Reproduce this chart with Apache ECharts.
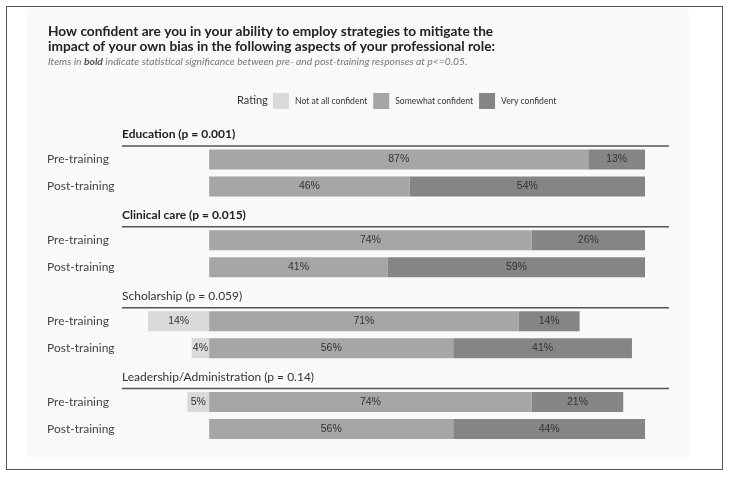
<!DOCTYPE html>
<html>
<head>
<meta charset="utf-8">
<script src="https://cdn.jsdelivr.net/npm/echarts@6/dist/echarts.min.js"></script>
<style>
html,body{margin:0;padding:0;background:#fff;}
#frame{position:absolute;left:6px;top:6px;width:717px;height:464px;border:1px solid #555;box-sizing:border-box;}
#chart{position:absolute;left:0;top:0;width:730px;height:477px;}
</style>
</head>
<body>
<div id="frame"></div>
<div id="chart"></div>
<script>
// ---- data ----
const groups = ['Education (p = 0.001)', 'Clinical care (p = 0.015)', 'Scholarship (p = 0.059)', 'Leadership/Administration (p = 0.14)'];
const significant = [true, true, false, false];
const rowNames = ['Pre-training', 'Post-training'];
const ratingNames = ['Not at all confident', 'Somewhat confident', 'Very confident'];
// per group: [pre, post]
const notAtAll = [[0, 0], [0, 0], [14, 4], [5, 0]];
const somewhat = [[87, 46], [74, 41], [71, 56], [74, 56]];
const veryConf = [[13, 54], [26, 59], [14, 41], [21, 44]];
const colors = ['#d9d9d9', '#a6a6a6', '#858585'];

// ---- build categories (header row + pre + post per group) ----
const cats = [];
const catLabel = {};
groups.forEach((g, gi) => {
  cats.push('h' + gi); catLabel['h' + gi] = { header: true, text: g, bold: significant[gi] };
  rowNames.forEach((r, ri) => { const k = 'r' + gi + '_' + ri; cats.push(k); catLabel[k] = { header: false, text: r }; });
});
function col(arr, sign) {
  const out = [];
  groups.forEach((g, gi) => { out.push('-'); arr[gi].forEach(v => out.push(v === 0 ? '-' : sign * v)); });
  return out;
}

const chart = echarts.init(document.getElementById('chart'), null, { renderer: 'canvas' });
const labelCfg = {
  show: true, position: 'inside', color: '#333', fontSize: 10.5,
  fontFamily: 'Liberation Sans, Arial, sans-serif',
  formatter: p => Math.abs(p.value) + '%'
};
const option = {
  backgroundColor: 'transparent',
  animation: false,
  graphic: [{
    type: 'rect', silent: true, z: -10,
    shape: { x: 27, y: 9, width: 662, height: 448 },
    style: { fill: '#f9f9f9' }
  }],
  title: [{
    left: 48, top: 24, padding: 0,
    text: 'How confident are you in your ability to employ strategies to mitigate the\nimpact of your own bias in the following aspects of your professional role:',
    textStyle: { fontFamily: 'Lato', fontWeight: 'bold', fontSize: 13.7, color: '#222', lineHeight: 15 }
  }, {
    left: 48, top: 57, padding: 0,
    text: '{i|Items in }{b|bold}{i| indicate statistical significance between pre- and post-training responses at p<=0.05.}',
    textStyle: {
      fontWeight: 'normal',
      rich: {
        i: { fontFamily: 'Lato', fontStyle: 'italic', fontWeight: 'normal', fontSize: 10.3, color: '#777' },
        b: { fontFamily: 'Lato', fontStyle: 'italic', fontWeight: 'bold', fontSize: 10.3, color: '#555' }
      }
    }
  }, {
    left: 237, top: 95, padding: 0,
    text: 'Rating',
    textStyle: { fontFamily: 'Lato', fontWeight: 'normal', fontSize: 11, color: '#333' }
  }],
  legend: {
    left: 273, top: 93, padding: 0,
    itemWidth: 16, itemHeight: 16, itemGap: 6,
    icon: 'rect',
    data: ratingNames,
    textStyle: { fontFamily: 'Lato', fontSize: 8.6, color: '#333', padding: [0, 0, 0, 1] },
    selectedMode: false
  },
  grid: { left: 122, right: 61, top: 119, bottom: 34.5, containLabel: false },
  xAxis: { type: 'value', min: -20, max: 105.5, show: false },
  yAxis: {
    type: 'category', inverse: true, data: cats,
    axisLine: { show: false }, axisTick: { show: false }, splitLine: { show: false },
    axisLabel: {
      align: 'left', margin: 75,
      formatter: v => {
        const c = catLabel[v];
        if (c.header) return (c.bold ? '{hb|' : '{hn|') + c.text + '}';
        return '{r|' + c.text + '}';
      },
      rich: {
        r: { fontFamily: 'Lato', fontSize: 12, color: '#444' },
        hb: { fontFamily: 'Lato', fontSize: 12, fontWeight: 'bold', color: '#222', padding: [4, 0, 0, 75] },
        hn: { fontFamily: 'Lato', fontSize: 12, color: '#333', padding: [4, 0, 0, 75] }
      }
    }
  },
  series: [
    { name: ratingNames[0], type: 'bar', stack: 's', barWidth: 20, data: col(notAtAll, -1), itemStyle: { color: colors[0] }, label: labelCfg },
    { name: ratingNames[1], type: 'bar', stack: 's', barWidth: 20, data: col(somewhat, 1), itemStyle: { color: colors[1] }, label: labelCfg },
    { name: ratingNames[2], type: 'bar', stack: 's', barWidth: 20, data: col(veryConf, 1), itemStyle: { color: colors[2] }, label: labelCfg }
  ]
};
chart.setOption(option);

// header rule lines at boundary between header row and pre-training row
const lines = [];
groups.forEach((g, gi) => {
  const yh = chart.convertToPixel({ gridIndex: 0 }, [0, 'h' + gi])[1];
  const yp = chart.convertToPixel({ gridIndex: 0 }, [0, 'r' + gi + '_0'])[1];
  const x0 = chart.convertToPixel({ gridIndex: 0 }, [-20, 'h' + gi])[0];
  const x1 = chart.convertToPixel({ gridIndex: 0 }, [105.5, 'h' + gi])[0];
  const y = (yh + yp) / 2;
  lines.push({ type: 'line', silent: true, z: 10, shape: { x1: x0, y1: y, x2: x1, y2: y }, style: { stroke: '#555', lineWidth: 1.5 } });
});
chart.setOption({ graphic: option.graphic.concat(lines) });
</script>
</body>
</html>
